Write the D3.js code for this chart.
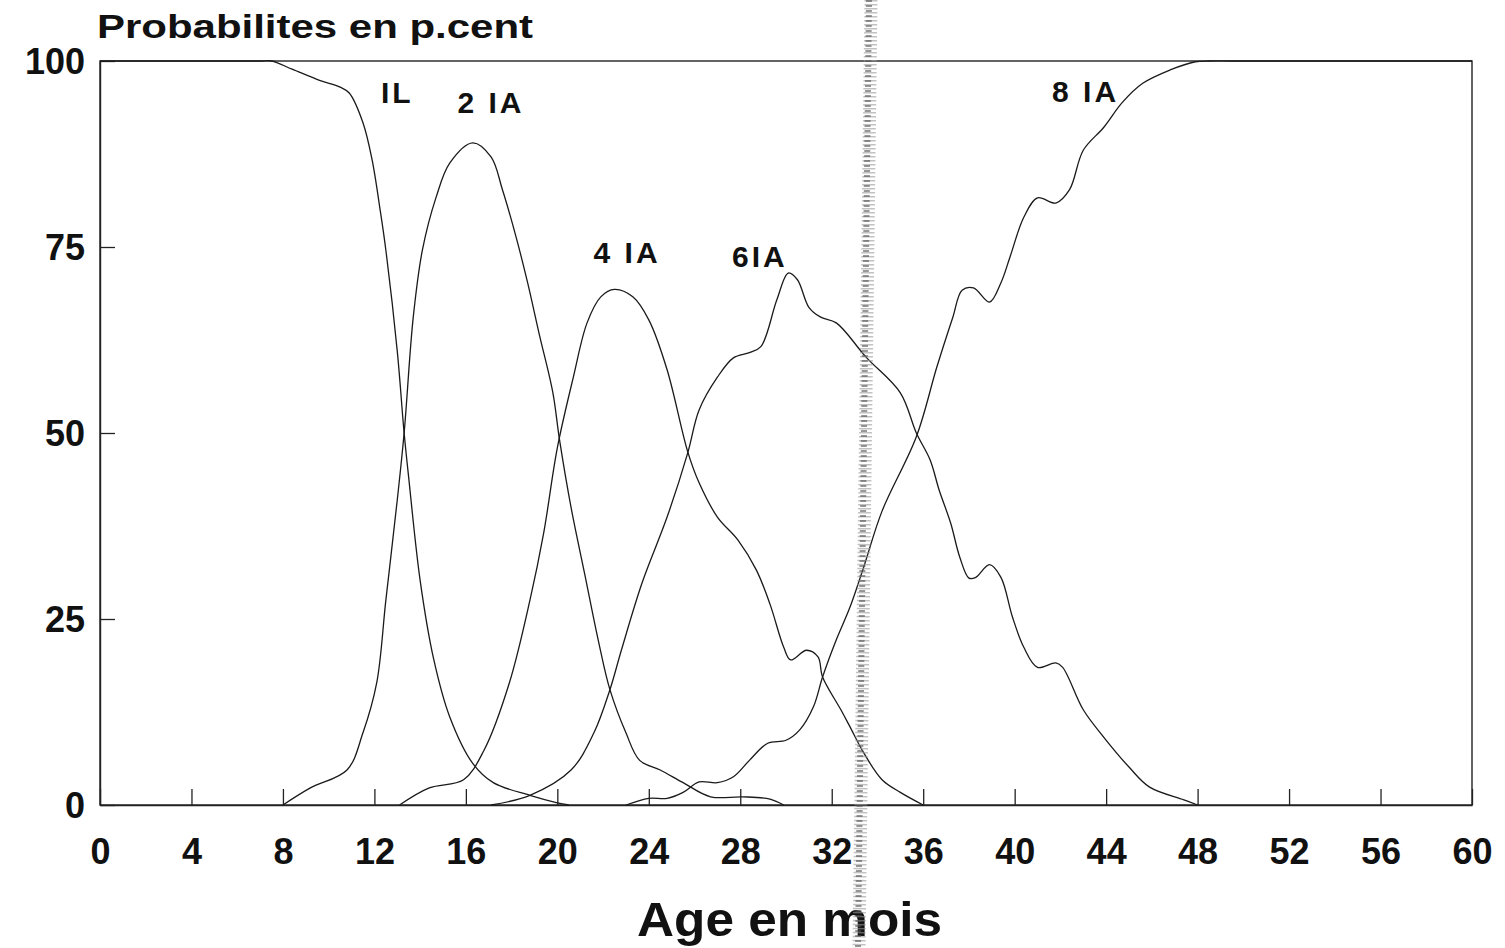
<!DOCTYPE html>
<html>
<head>
<meta charset="utf-8">
<script src="https://cdn.jsdelivr.net/npm/d3@7"></script>
<style>
  html, body { margin: 0; padding: 0; background: #fff; }
  svg { display: block; }
  text { font-family: "Liberation Sans", Arial, Helvetica, sans-serif; fill: #111; }
</style>
</head>
<body>
<svg id="chart" width="1505" height="948"></svg>
<script>
// Probability (%) of each dental stage by age in months
const xTicks = [0, 4, 8, 12, 16, 20, 24, 28, 32, 36, 40, 44, 48, 52, 56, 60];
const yTicks = [0, 25, 50, 75, 100];

// [age in months, probability %]
const serieIL = [
  [0, 100], [6.0, 100], [7.0, 100], [7.5, 100], [8.4, 98.9], [9.6, 97.4], [10.5, 96.5], [10.9, 95.7],
  [11.5, 91.7], [11.9, 86.7], [12.25, 80], [12.5, 74.6], [13.0, 61], [13.3, 50], [13.5, 44],
  [14.0, 30.2], [14.6, 19.5], [15.3, 11.8], [16.3, 5.6], [17.2, 3.0], [18.8, 1.3], [20.0, 0.3], [20.5, 0]
];
const serie2IA = [
  [8.0, 0], [9.2, 2.3], [10.8, 4.7], [11.5, 9.7], [12.1, 16.4], [12.5, 27.5], [13.0, 41],
  [13.3, 50], [13.7, 65.6], [14.1, 74.6], [14.7, 81.7], [15.3, 86.3], [16.3, 89], [17.1, 87.1],
  [17.6, 82.7], [18.2, 76.3], [18.7, 70.2], [19.2, 63.4], [19.8, 55.5], [20.1, 49], [20.6, 40],
  [21.2, 31], [21.8, 22], [22.3, 15.5], [23.0, 9.7], [23.6, 6], [24.5, 4.7], [25.5, 3],
  [26.7, 1.1], [28.1, 1.1], [29.3, 0.8], [29.9, 0]
];
const serie4IA = [
  [13.1, 0], [14.4, 2.3], [15.9, 3.4], [16.8, 7.4], [17.9, 16.4], [18.8, 27.5], [19.4, 36.5],
  [20.0, 48], [20.7, 57.5], [21.3, 64.8], [21.9, 68.3], [22.5, 69.3], [23.3, 68.3], [24.0, 65.2],
  [24.8, 58.5], [25.7, 47.5], [26.2, 43.3], [27.0, 38.7], [27.9, 35.6], [28.7, 31.6], [29.3, 27],
  [29.9, 21.2], [30.2, 19.5], [30.9, 20.8], [31.4, 19.9], [31.6, 17.2], [32.4, 12.8], [32.8, 10.5],
  [33.4, 7], [34.2, 3.4], [35.0, 1.7], [36.0, 0]
];
const serie6IA = [
  [17.1, 0], [18.8, 1.3], [20.6, 4.7], [21.6, 9.7], [22.3, 15.5], [22.8, 20.8], [23.7, 29.8],
  [24.8, 38.7], [25.7, 47.3], [26.2, 53.1], [27.0, 57.5], [27.7, 60.1], [28.4, 60.8], [28.9, 61.6],
  [29.6, 67.9], [30.1, 71.5], [30.5, 70.6], [31.0, 66.9], [31.5, 65.6], [32.2, 64.8], [33.5, 60.2],
  [35.0, 55.4], [35.7, 50], [36.3, 46.4], [36.7, 42.3], [37.2, 37.9], [37.6, 33.3], [38.0, 30.5],
  [38.3, 30.6], [38.9, 32.3], [39.4, 30.6], [39.9, 25.3], [40.4, 21.2], [41.0, 18.5], [41.8, 19.1],
  [42.1, 18.5], [43.0, 12.8], [43.9, 9.1], [45.0, 5.1], [45.9, 2.4], [47.4, 0.7], [48.0, 0]
];
const serie8IA = [
  [23.0, 0], [24.0, 0.9], [24.8, 0.9], [25.5, 1.7], [26.2, 3.1], [27.0, 3.0], [27.7, 3.8],
  [28.4, 6], [29.2, 8.3], [30.0, 8.7], [30.6, 10.1], [31.2, 13.2], [31.6, 17.2], [32.2, 22.2],
  [32.8, 26.6], [33.4, 32], [34.2, 39.5], [35.7, 49.5], [36.6, 58.9], [37.3, 65.6], [37.7, 69.2],
  [38.2, 69.5], [38.9, 67.6], [39.4, 70.2], [39.8, 73.7], [40.4, 79], [41.0, 81.6], [41.8, 80.9],
  [42.4, 82.7], [43.0, 88], [43.9, 91.1], [44.7, 94.4], [45.6, 97], [46.8, 98.8], [47.9, 99.9],
  [48.5, 100], [49.5, 100], [60, 100]
];

const seriesNames = ["IL", "2 IA", "4 IA", "6IA", "8 IA"];
const seriesValues = [serieIL, serie2IA, serie4IA, serie6IA, serie8IA];
// label anchor for each curve: [age, probability]
const labelAnchors = [[13.0, 94.4], [17.1, 93.0], [23.05, 72.85], [28.86, 72.3], [43.1, 94.5]];

const svg = d3.select("#chart");
const plotLeft = 100, plotRight = 1472, plotTop = 61, plotBottom = 805;

const x = d3.scaleLinear().domain([0, 60]).range([plotLeft, plotRight]);
const y = d3.scaleLinear().domain([0, 100]).range([plotBottom, plotTop]);

// title
svg.append("text")
  .attr("x", 97).attr("y", 38)
  .attr("font-size", 34).attr("font-weight", "bold")
  .attr("textLength", 436).attr("lengthAdjust", "spacingAndGlyphs")
  .text("Probabilites en p.cent");

// frame
svg.append("rect")
  .attr("x", plotLeft).attr("y", plotTop)
  .attr("width", plotRight - plotLeft).attr("height", plotBottom - plotTop)
  .attr("fill", "none").attr("stroke", "#222").attr("stroke-width", 1.4);

// bottom axis: ticks pointing inward
const xAxis = d3.axisBottom(x).tickValues(xTicks).tickSizeInner(-16).tickSizeOuter(0).tickPadding(33);
const gx = svg.append("g").attr("transform", `translate(0,${plotBottom})`).call(xAxis);
gx.select(".domain").attr("stroke", "#222").attr("stroke-width", 1.6);
gx.selectAll(".tick line").attr("stroke", "#222").attr("stroke-width", 1.3);
gx.selectAll(".tick text")
  .attr("font-size", 36).attr("font-weight", "bold")
  .attr("font-family", "'Liberation Sans', Arial, sans-serif").attr("fill", "#111");

// left axis: ticks pointing inward
const yAxis = d3.axisLeft(y).tickValues(yTicks).tickSizeInner(-15).tickSizeOuter(0).tickPadding(15);
const gy = svg.append("g").attr("transform", `translate(${plotLeft},0)`).call(yAxis);
gy.select(".domain").attr("stroke", "#222").attr("stroke-width", 1.4);
gy.selectAll(".tick line").attr("stroke", "#222").attr("stroke-width", 1.3);
gy.selectAll(".tick text")
  .attr("font-size", 36).attr("font-weight", "bold")
  .attr("font-family", "'Liberation Sans', Arial, sans-serif").attr("fill", "#111")
  .attr("dy", "0.36em");

// x axis title
svg.append("text")
  .attr("x", 637).attr("y", 936)
  .attr("font-size", 48).attr("font-weight", "bold")
  .attr("textLength", 305).attr("lengthAdjust", "spacingAndGlyphs")
  .text("Age en mois");

// probability curves
const line = d3.line()
  .x(d => x(d[0]))
  .y(d => y(d[1]))
  .curve(d3.curveCatmullRom.alpha(0.5));

svg.append("g").selectAll("path")
  .data(seriesValues)
  .join("path")
  .attr("d", line)
  .attr("fill", "none")
  .attr("stroke", "#1a1a1a")
  .attr("stroke-width", 1.3);

// curve labels
svg.append("g").selectAll("text")
  .data(seriesNames)
  .join("text")
  .attr("x", (d, i) => x(labelAnchors[i][0]))
  .attr("y", (d, i) => y(labelAnchors[i][1]))
  .attr("text-anchor", "middle")
  .attr("font-size", 30)
  .attr("font-weight", "bold")
  .attr("letter-spacing", 3)
  .text(d => d);

// stippled fold line across the sheet
const fold = svg.append("g").attr("pointer-events", "none");
fold.append("line")
  .attr("x1", 871).attr("y1", 0).attr("x2", 859).attr("y2", 948)
  .attr("stroke", "#9a9a9a").attr("stroke-width", 13)
  .attr("stroke-dasharray", "1.5 2.5").attr("opacity", 0.6);
fold.append("line")
  .attr("x1", 869).attr("y1", 0).attr("x2", 858).attr("y2", 948)
  .attr("stroke", "#555").attr("stroke-width", 6)
  .attr("stroke-dasharray", "2 3").attr("opacity", 0.6);
</script>
</body>
</html>
